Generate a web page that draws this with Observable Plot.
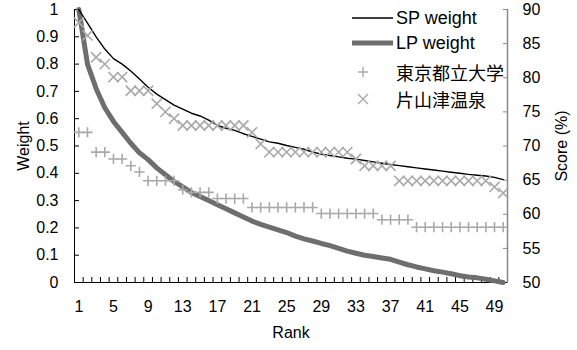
<!DOCTYPE html>
<html><head><meta charset="utf-8">
<script src="https://cdn.jsdelivr.net/npm/d3@7"></script>
<script src="https://cdn.jsdelivr.net/npm/@observablehq/plot@0.6"></script>
<style>
body{margin:0;background:#fff;}
#wrap{position:relative;width:577px;height:350px;font-family:"Liberation Sans",Arial,"Noto Sans CJK JP",sans-serif;}
.lg{position:absolute;left:350px;height:24px;display:flex;align-items:center;font-size:18px;color:#000;white-space:nowrap;}
.lg svg{width:46px;height:24px;flex:none;}
.lg span{font-family:"Liberation Sans",Arial,"Noto Sans CJK JP",sans-serif;}
</style></head><body><div id="wrap"></div>
<script>
const ranks = [1,2,3,4,5,6,7,8,9,10,11,12,13,14,15,16,17,18,19,20,21,22,23,24,25,26,27,28,29,30,31,32,33,34,35,36,37,38,39,40,41,42,43,44,45,46,47,48,49,50];
const spWeight = [1.00,0.95,0.90,0.855,0.82,0.80,0.775,0.745,0.715,0.69,0.67,0.65,0.635,0.62,0.61,0.595,0.575,0.565,0.557,0.545,0.535,0.525,0.515,0.51,0.502,0.495,0.488,0.478,0.47,0.465,0.46,0.455,0.452,0.447,0.442,0.437,0.432,0.428,0.424,0.42,0.416,0.412,0.408,0.404,0.40,0.396,0.393,0.39,0.385,0.377];
const lpWeight = [1.00,0.80,0.71,0.64,0.59,0.55,0.51,0.475,0.45,0.42,0.395,0.37,0.35,0.33,0.315,0.30,0.285,0.27,0.255,0.24,0.225,0.213,0.203,0.193,0.183,0.17,0.16,0.152,0.143,0.135,0.125,0.115,0.107,0.10,0.095,0.09,0.085,0.075,0.065,0.057,0.05,0.043,0.038,0.032,0.025,0.02,0.017,0.012,0.006,0.0];
const tokyoScore = [72.0,72.0,69.1,69.1,68.1,68.1,67.1,66.2,64.9,64.9,64.9,64.9,63.6,63.2,63.2,63.2,62.3,62.3,62.3,62.3,61.0,61.0,61.0,61.0,61.0,61.0,61.0,61.0,60.1,60.1,60.1,60.1,60.1,60.1,60.1,59.2,59.2,59.2,59.2,58.1,58.1,58.1,58.1,58.1,58.1,58.1,58.1,58.1,58.1,58.1];
const katayamazuScore = [88.1,86.2,83.0,82.0,80.1,80.1,78.1,78.1,78.1,76.2,75.0,74.0,73.0,73.0,73.0,73.0,73.0,73.0,73.0,73.0,72.0,70.3,69.1,69.1,69.1,69.1,69.1,69.1,69.1,69.1,69.1,69.1,68.1,67.1,67.1,67.1,67.1,64.9,64.9,64.9,64.9,64.9,64.9,64.9,64.9,64.9,64.9,64.9,64.0,63.1];
const weightTicks = [0,0.1,0.2,0.3,0.4,0.5,0.6,0.7,0.8,0.9,1];
const scoreTicks = [50,55,60,65,70,75,80,85,90];
const rankTicks = [1,5,9,13,17,21,25,29,33,37,41,45,49];
const seriesNames = ["SP weight","LP weight","東京都立大学","片山津温泉"];

const scoreMin = 50, scoreMax = 90;
const toW = s => (s - scoreMin) / (scoreMax - scoreMin);
const rows = ranks.map((r,i)=>({r, sp: spWeight[i], lp: lpWeight[i], t: tokyoScore[i], k: katayamazuScore[i]}));
const bounds = ranks.slice(0,-1).map(r => r + 0.5);
const FONT = '"Liberation Sans",Arial,"Noto Sans CJK JP",sans-serif';
const MARK = "#a9a9a9";

const chart = Plot.plot({
  width: 577, height: 350,
  marginLeft: 74, marginRight: 70, marginTop: 9, marginBottom: 68,
  style: {fontFamily: FONT, fontSize: "16px", color: "#000", background: "#fff", overflow: "visible"},
  x: {domain: [0.5, 50.5]},
  y: {domain: [0, 1]},
  marks: [
    Plot.axisY({ticks: weightTicks, tickSize: 0, tickPadding: 16, tickFormat: d => String(d), label: "Weight", labelAnchor: "center", labelOffset: 57, labelArrow: "none", fontSize: 16}),
    Plot.axisY({ticks: weightTicks, tickSize: -5, tickFormat: () => "", label: null}),
    Plot.axisY({anchor: "right", ticks: scoreTicks.map(toW), tickSize: 0, tickPadding: 15, tickFormat: w => String(Math.round(scoreMin + (scoreMax - scoreMin) * w)), label: "Score (%)", labelAnchor: "center", labelOffset: 59, labelArrow: "none", fontSize: 16}),
    Plot.axisY({anchor: "right", ticks: scoreTicks.map(toW), tickSize: -5, tickFormat: () => "", label: null, stroke: "#888"}),
    Plot.axisX({ticks: rankTicks, tickSize: 0, tickPadding: 18, tickFormat: d => String(d), label: "Rank", labelAnchor: "center", labelOffset: 55, labelArrow: "none", fontSize: 16}),
    Plot.axisX({ticks: bounds, tickSize: -5, tickFormat: () => "", label: null}),
    Plot.ruleX([0.5], {stroke: "#000"}),
    Plot.ruleX([50.5], {stroke: "#888", strokeWidth: 1.5}),
    Plot.ruleY([0], {stroke: "#000"}),
    Plot.line(rows, {x: "r", y: "lp", stroke: "#6e6e6e", strokeWidth: 5}),
    Plot.line(rows, {x: "r", y: "sp", stroke: "#000", strokeWidth: 1.4}),
    Plot.dot(rows, {x: "r", y: d => toW(d.t), symbol: "plus", stroke: MARK, strokeWidth: 1.6, r: 3.4}),
    Plot.dot(rows, {x: "r", y: d => toW(d.k), symbol: "times", stroke: MARK, strokeWidth: 1.6, r: 4.7})
  ]
});
const wrap = document.getElementById("wrap");
wrap.appendChild(chart);

const legendTops = [6, 31, 60, 87];
const samples = [
  '<line x1="2" y1="12" x2="43" y2="12" stroke="#000" stroke-width="1.4"/>',
  '<line x1="2" y1="12" x2="43" y2="12" stroke="#6e6e6e" stroke-width="5"/>',
  '<path d="M13,7V17M8,12H18" stroke="'+MARK+'" stroke-width="1.4" fill="none"/>',
  '<path d="M13,7L23,17M13,17L23,7" stroke="'+MARK+'" stroke-width="1.4" fill="none" transform="translate(-5,0)"/>'
];
seriesNames.forEach((name, i) => {
  const d = document.createElement("div");
  d.className = "lg";
  d.style.top = legendTops[i] + "px";
  d.innerHTML = '<svg>' + samples[i] + '</svg><span>' + name + '</span>';
  wrap.appendChild(d);
});
</script></body></html>
